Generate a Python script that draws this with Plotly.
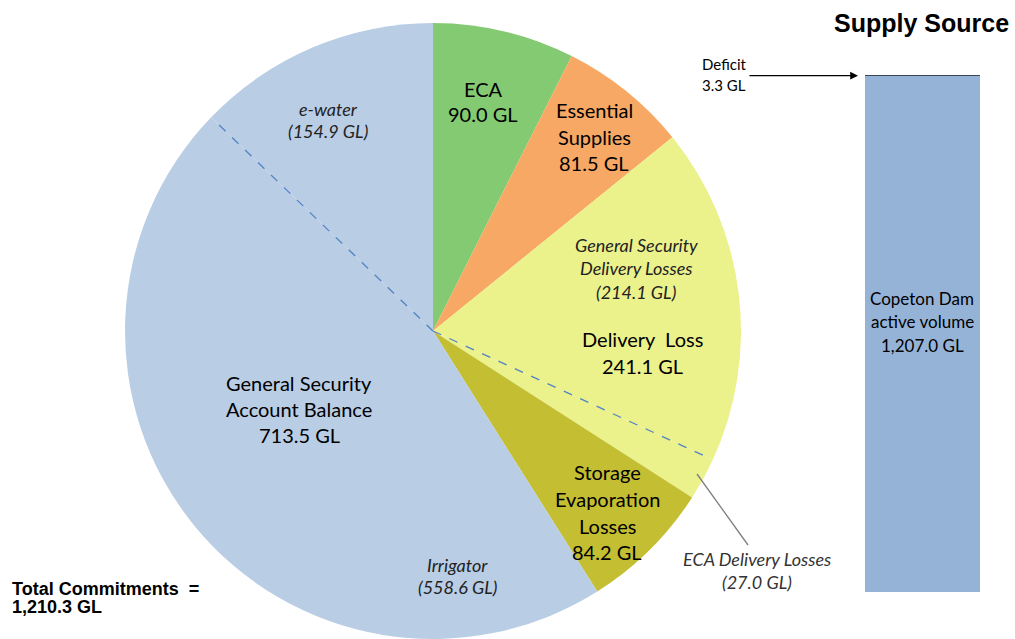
import math
import plotly.graph_objects as go

W, H = 1015, 639

# ---- data ----
slice_names = ["ECA", "Essential Supplies", "General Security Delivery Losses",
               "ECA Delivery Losses", "Storage Evaporation Losses", "Irrigator", "e-water"]
slice_values = [90.0, 81.5, 214.1, 27.0, 84.2, 558.6, 154.9]
slice_colors = ["#84CA72", "#F7A864", "#EBF18B", "#EBF18B", "#C4BE32", "#B9CDE5", "#B9CDE5"]

supply_names = ["Copeton Dam active volume", "Deficit"]
supply_values = [1207.0, 3.3]
supply_colors = ["#95B3D7", "#3B4656"]

total_commitments = sum(slice_values)

# ---- layout geometry (pixels) ----
CX, CY, R = 433, 331, 308

def px(x):
    return x / W

def py(y):
    return 1 - y / H

fig = go.Figure()

fig.add_trace(go.Pie(
    labels=slice_names, values=slice_values, sort=False, direction="clockwise",
    rotation=0, textinfo="none", hoverinfo="label+value",
    marker=dict(colors=slice_colors, line=dict(width=0)),
    domain=dict(x=[px(CX - R), px(CX + R)], y=[max(0, py(CY + R)), py(CY - R)]),
    showlegend=False,
))

# supply bar (stacked)
for name, val, col in zip(supply_names, supply_values, supply_colors):
    fig.add_trace(go.Bar(
        x=["Supply"], y=[val], name=name,
        marker=dict(color=col, line=dict(width=1.6 if name == "Deficit" else 0, color=col)),
        xaxis="x2", yaxis="y2", showlegend=False,
    ))

# dashed sub-division lines computed from slice boundaries
def boundary_angle(idx):
    cum = sum(slice_values[:idx])
    return 2 * math.pi * cum / total_commitments

for idx in [3, 6]:
    a = boundary_angle(idx)
    rr = R * 0.975
    x1 = CX + rr * math.sin(a)
    y1 = CY - rr * math.cos(a)
    fig.add_shape(type="line", xref="paper", yref="paper",
                  x0=px(CX), y0=py(CY), x1=px(x1), y1=py(y1),
                  line=dict(color="#5283C4", width=1.3, dash="dash"))

FONT = "Lato, Carlito, Calibri, sans-serif"
ARIAL = "Liberation Sans, Arial, sans-serif"

def label(x, ys, lines, size=20, italic=False, color="#000000", xanchor="center", family=FONT, bold=False):
    for y, t in zip(ys, lines):
        if italic:
            t = "<i>" + t + "</i>"
        if bold:
            t = "<b>" + t + "</b>"
        fig.add_annotation(x=px(x), y=py(y), xref="paper", yref="paper", text=t,
                           showarrow=False, xanchor=xanchor, yanchor="middle",
                           font=dict(family=family, size=size, color=color))

label(483, [89, 114], ["ECA", "90.0 GL"])
label(594, [110, 137, 163], ["Essential", "Supplies", "81.5 GL"])
label(636, [245, 268, 292], ["General Security", "Delivery Losses", "(214.1 GL)"], size=18, italic=True, color="#222222")
label(642, [339, 366], ["Delivery  Loss", "241.1 GL"])
label(607, [472, 499, 526, 552], ["Storage", "Evaporation", "Losses", "84.2 GL"])
label(299, [383, 409, 435], ["General Security", "Account Balance", "713.5 GL"])
label(328, [109, 131], ["e-water", "(154.9 GL)"], size=18, italic=True, color="#222222")
label(457, [565, 587], ["Irrigator", "(558.6 GL)"], size=18, italic=True, color="#222222")
label(757, [559, 582], ["ECA Delivery Losses", "(27.0 GL)"], size=18, italic=True, color="#333333")
label(922, [298, 322, 345], ["Copeton Dam", "active volume", "1,207.0 GL"], size=17)
label(921, [23], ["Supply Source"], size=25, family=ARIAL, bold=True)
label(10, [589, 607], ["Total Commitments  =", "1,210.3 GL"], size=18, family=ARIAL, bold=True, xanchor="left")
label(700, [64, 85], ["Deficit", "3.3 GL"], size=15, xanchor="left")

# leader line for ECA delivery losses
fig.add_shape(type="line", xref="paper", yref="paper",
              x0=px(697), y0=py(474), x1=px(748), y1=py(545),
              line=dict(color="#7F7F7F", width=1.3))

# deficit arrow
fig.add_annotation(x=px(858), y=total_commitments - supply_values[1] / 2, xref="paper", yref="y2",
                   ax=-110, ay=0, text="", showarrow=True, arrowhead=2, arrowsize=1.2,
                   arrowwidth=1.3, arrowcolor="#000000")

fig.update_layout(
    width=W, height=H, margin=dict(l=0, r=0, t=0, b=0),
    paper_bgcolor="white", plot_bgcolor="white",
    barmode="stack", bargap=0,
    xaxis2=dict(domain=[px(865), px(980)], anchor="y2", visible=False, fixedrange=True),
    yaxis2=dict(domain=[py(592), py(75)], anchor="x2", range=[0, total_commitments],
                visible=False, fixedrange=True),
    xaxis=dict(visible=False), yaxis=dict(visible=False),
)

fig.write_html("out.html", config={"displayModeBar": False},
               post_script="document.body.style.margin='0';")
